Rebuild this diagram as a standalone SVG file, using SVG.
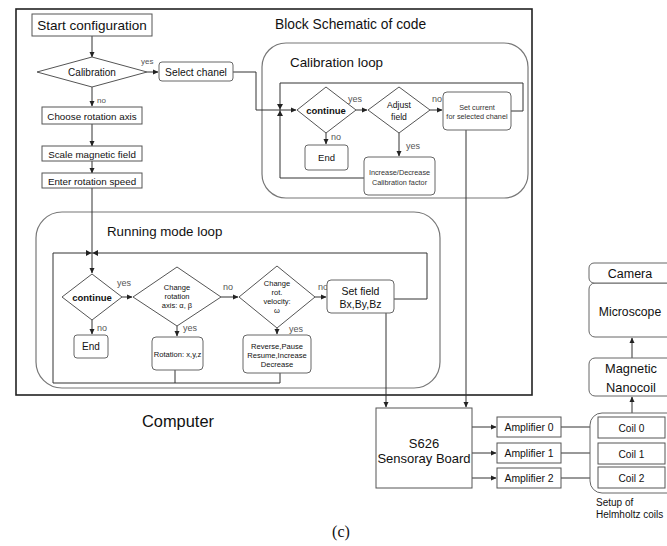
<svg xmlns="http://www.w3.org/2000/svg" width="667" height="546" viewBox="0 0 667 546">
<defs>
<marker id="a" markerWidth="6" markerHeight="6" refX="5" refY="3" orient="auto" markerUnits="userSpaceOnUse"><path d="M0,0.5 L5.5,3 L0,5.5z" fill="#222"/></marker>
<style>
text{font-family:"Liberation Sans",Arial,sans-serif;fill:#111}
.box{fill:#fff;stroke:#555;stroke-width:1}
.rb{fill:#fff;stroke:#666;stroke-width:1}
.loop{fill:none;stroke:#777;stroke-width:1.2}
.c{fill:none;stroke:#333;stroke-width:1}
.ca{fill:none;stroke:#333;stroke-width:1;marker-end:url(#a)}
.lbl{font-size:8px;fill:#555}
.lbl9{font-size:9px;fill:#555}
.m{text-anchor:middle}
.tiny{font-size:7.3px;fill:#333;text-anchor:middle}
.jn{fill:#222}
</style>
</defs>
<rect width="667" height="546" fill="#fff"/>

<g id="computer">
<rect x="16" y="9" width="516" height="386" fill="none" stroke="#222" stroke-width="1.6"/>
<text x="178" y="427" font-size="16.4" class="m">Computer</text>
</g>
<text x="275" y="29" font-size="13.8">Block Schematic of code</text>

<g id="calibration-loop">
<rect x="262" y="43" width="266" height="155" rx="24" class="loop"/>
<text x="290" y="67" font-size="13.4">Calibration loop</text>
</g>
<g id="running-loop">
<rect x="36" y="212" width="404" height="176" rx="26" class="loop"/>
<text x="107" y="236" font-size="13.3">Running mode loop</text>
</g>

<g id="connectors">
<path class="ca" d="M92,36 V57"/>
<path class="ca" d="M147,72 H158"/>
<path class="ca" d="M92,87 V106"/>
<path class="ca" d="M92,124 V146"/>
<path class="ca" d="M92,161 V173"/>
<path class="ca" d="M233,72 H256 V110 H296"/>
<path class="c" d="M364,178 H280 V83 H523 V111 H511"/>
<path class="jn" d="M277,104 L283,104 L280,109.5z M277,116 L283,116 L280,110.5z"/>
<path class="ca" d="M356,110 H367"/>
<path class="ca" d="M430,110 H442"/>
<path class="ca" d="M326,133 V144"/>
<path class="ca" d="M399,133 V156"/>
<path class="ca" d="M466,130 V407"/>
<path class="ca" d="M92,188 V273"/>
<path class="c" d="M394,299 H427 V253 H53 V383 H280 V373 M175,370 V383"/>
<path class="jn" d="M86,250 L86,256 L91.5,253z M98,250 L98,256 L92.5,253z"/>
<path class="ca" d="M122,297 H132"/>
<path class="ca" d="M221,297 H238"/>
<path class="ca" d="M315,297 H326"/>
<path class="ca" d="M92,320 V334"/>
<path class="ca" d="M177,326 V336"/>
<path class="ca" d="M277,328 V334"/>
<path class="ca" d="M386,313 V407"/>
<path class="ca" d="M472,427 H496"/>
<path class="ca" d="M472,453 H496"/>
<path class="ca" d="M472,478 H496"/>
<path class="ca" d="M561,427 H597"/>
<path class="ca" d="M561,453 H597"/>
<path class="ca" d="M561,478 H597"/>
<path class="ca" d="M632,413 V397"/>
<path class="ca" d="M632,358 V338"/>
</g>

<g id="labels">
<text x="141" y="64" class="lbl">yes</text>
<text x="97" y="103" class="lbl">no</text>
<text x="348" y="102" class="lbl9">yes</text>
<text x="432" y="102" class="lbl9">no</text>
<text x="331" y="140" class="lbl9">no</text>
<text x="406" y="149" class="lbl9">yes</text>
<text x="117" y="286" class="lbl9">yes</text>
<text x="223" y="290" class="lbl9">no</text>
<text x="318" y="290" class="lbl9">no</text>
<text x="97" y="331" class="lbl9">no</text>
<text x="183" y="331" class="lbl9">yes</text>
<text x="289" y="332" class="lbl9">yes</text>
</g>

<g id="start"><rect x="32" y="14" width="120" height="22" class="box"/><text x="92" y="30" font-size="13.5" class="m">Start configuration</text></g>
<g id="calibration"><path d="M37,72 L92,57 L147,72 L92,87z" class="box"/><text x="92" y="76" font-size="10" class="m">Calibration</text></g>
<g id="select-chanel"><rect x="159" y="62" width="74" height="19" rx="3" class="rb"/><text x="196" y="75.5" font-size="10.3" class="m">Select chanel</text></g>
<g id="choose-axis"><rect x="42" y="107" width="100" height="17" class="box"/><text x="92" y="119.5" font-size="9.8" class="m">Choose rotation axis</text></g>
<g id="scale-field"><rect x="42" y="146" width="100" height="15" class="box"/><text x="92" y="157.5" font-size="9.8" class="m">Scale magnetic field</text></g>
<g id="enter-speed"><rect x="42" y="173" width="100" height="15" class="box"/><text x="92" y="184.5" font-size="9.8" class="m">Enter rotation speed</text></g>

<g id="cal-continue"><path d="M297,110 L326,87 L356,110 L326,133z" class="box"/><text x="326" y="113.5" font-size="9.5" font-weight="bold" class="m">continue</text></g>
<g id="cal-end"><rect x="305" y="145" width="43" height="25" rx="3" class="rb"/><text x="326.5" y="161" font-size="9.5" class="m" fill="#333">End</text></g>
<g id="adjust-field"><path d="M368,110 L399,87 L430,110 L399,133z" class="box"/><text x="399" y="108" font-size="8.6" class="m" fill="#333">Adjust</text><text x="399" y="120" font-size="8.6" class="m" fill="#333">field</text></g>
<g id="set-current"><rect x="443" y="92" width="68" height="38" rx="4" class="rb"/><text x="477" y="110" class="tiny">Set current</text><text x="477" y="119" class="tiny">for selected chanel</text></g>
<g id="inc-dec"><rect x="364" y="157" width="71" height="38" rx="4" class="rb"/><text x="399.5" y="175" class="tiny">Increase/Decrease</text><text x="399.5" y="184.5" class="tiny">Calibration factor</text></g>

<g id="run-continue"><path d="M62,297 L92,274 L122,297 L92,320z" class="box"/><text x="92" y="300.5" font-size="9.5" font-weight="bold" class="m">continue</text></g>
<g id="run-end"><rect x="74" y="335" width="34" height="23" rx="3" class="rb"/><text x="91" y="350" font-size="10" class="m" fill="#333">End</text></g>
<g id="change-axis"><path d="M133,297 L177,267 L221,297 L177,326z" class="box"/><text x="177" y="290" font-size="7.5" class="m" fill="#333">Change</text><text x="177" y="299" font-size="7.5" class="m" fill="#333">rotation</text><text x="177" y="308" font-size="7.5" class="m" fill="#333">axis:  α, β</text></g>
<g id="rotation"><rect x="152" y="337" width="51" height="33" rx="4" class="rb"/><text x="177.5" y="356.5" font-size="7.6" class="m" fill="#333">Rotation: x,y,z</text></g>
<g id="change-velocity"><path d="M239,297 L277,266 L315,297 L277,328z" class="box"/><text x="277" y="286" font-size="7.5" class="m" fill="#333">Change</text><text x="277" y="294.5" font-size="7.5" class="m" fill="#333">rot.</text><text x="277" y="304" font-size="7.5" class="m" fill="#333">velocity:</text><text x="277" y="312.5" font-size="7.5" class="m" fill="#333">ω</text></g>
<g id="reverse"><rect x="243" y="335" width="68" height="38" rx="4" class="rb"/><text x="277" y="348.5" font-size="7.6" class="m" fill="#333">Reverse,Pause</text><text x="277" y="357.5" font-size="7.6" class="m" fill="#333">Resume,Increase</text><text x="277" y="366.5" font-size="7.6" class="m" fill="#333">Decrease</text></g>
<g id="set-field"><rect x="327" y="280" width="67" height="33" rx="4" class="rb"/><text x="360.5" y="295" font-size="10.5" class="m">Set field</text><text x="360.5" y="308" font-size="10.5" class="m">Bx,By,Bz</text></g>

<g id="s626"><rect x="376" y="408" width="96" height="80" class="box"/><text x="424" y="448" font-size="13" class="m">S626</text><text x="424" y="463" font-size="13" class="m">Sensoray Board</text></g>
<g id="amp0"><rect x="497" y="417" width="64" height="20" class="box"/><text x="529" y="431" font-size="10.4" class="m">Amplifier 0</text></g>
<g id="amp1"><rect x="497" y="443" width="64" height="20" class="box"/><text x="529" y="457" font-size="10.4" class="m">Amplifier 1</text></g>
<g id="amp2"><rect x="497" y="468" width="64" height="20" class="box"/><text x="529" y="482" font-size="10.4" class="m">Amplifier 2</text></g>

<g id="helmholtz"><rect x="590" y="413" width="95" height="80" rx="12" class="rb"/><text x="596" y="506" font-size="10">Setup of</text><text x="596" y="518" font-size="10">Helmholtz coils</text></g>
<g id="coil0"><rect x="598" y="417" width="67" height="21" class="box"/><text x="631.5" y="431.5" font-size="10.2" class="m">Coil 0</text></g>
<g id="coil1"><rect x="598" y="443" width="67" height="21" class="box"/><text x="631.5" y="457.5" font-size="10.2" class="m">Coil 1</text></g>
<g id="coil2"><rect x="598" y="467" width="67" height="21" class="box"/><text x="631.5" y="481.5" font-size="10.2" class="m">Coil 2</text></g>
<g id="nanocoil"><rect x="589" y="358" width="95" height="38" rx="6" class="rb"/><text x="631" y="373" font-size="12.8" class="m">Magnetic</text><text x="631" y="392" font-size="12.8" class="m">Nanocoil</text></g>
<g id="microscope"><rect x="589" y="283" width="95" height="54" rx="6" class="rb"/><text x="630" y="315.5" font-size="12.2" class="m">Microscope</text></g>
<g id="camera"><rect x="589" y="263" width="95" height="20" rx="5" class="rb"/><text x="630" y="278" font-size="12.5" class="m">Camera</text></g>

<text x="341" y="537" font-size="16" class="m" style="font-family:'Liberation Serif','Times New Roman',serif">(c)</text>
</svg>
